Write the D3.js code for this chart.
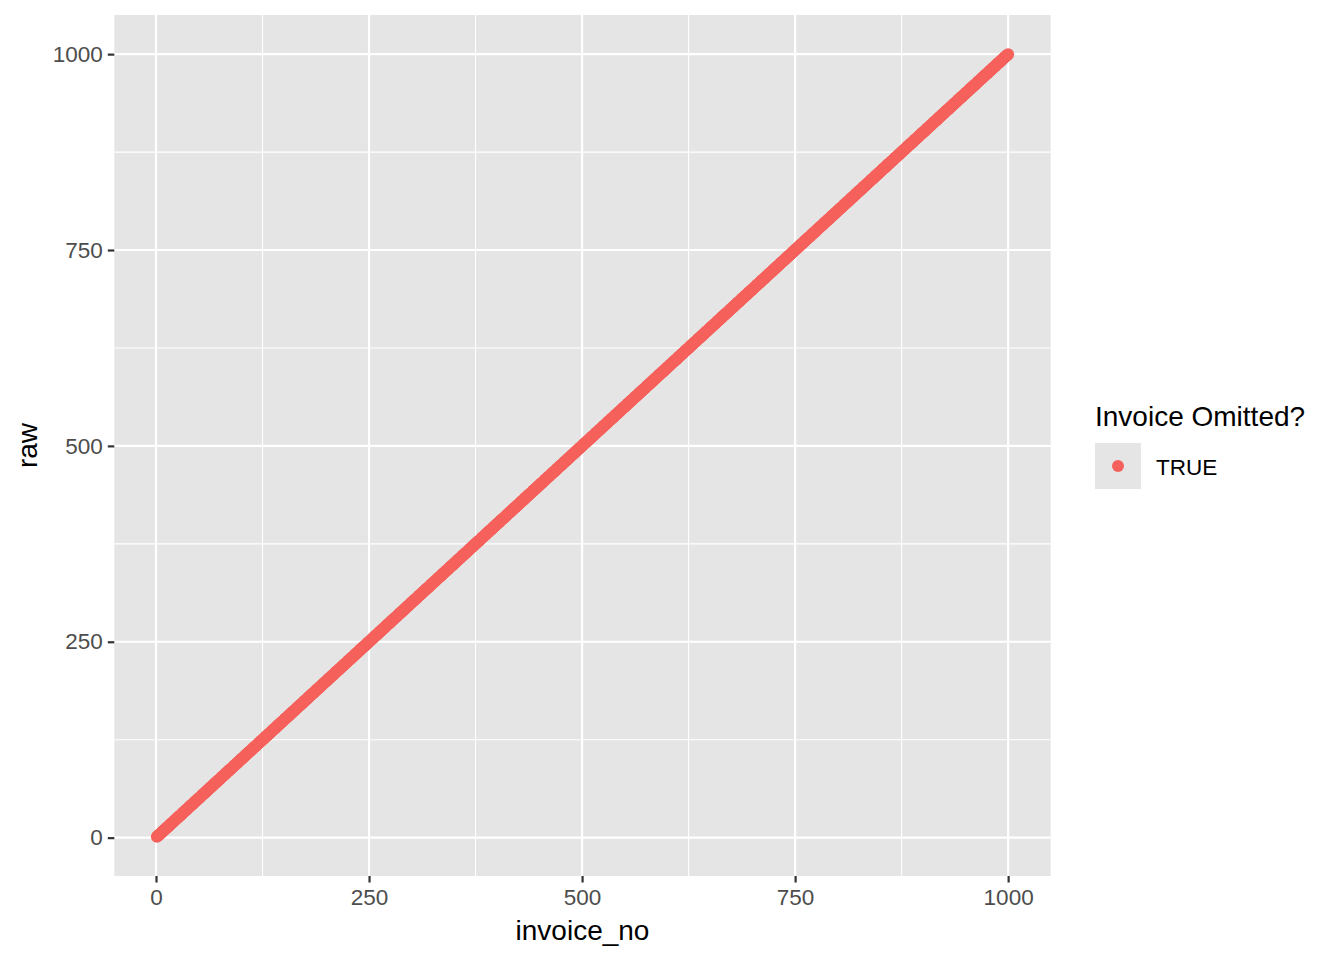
<!DOCTYPE html>
<html>
<head>
<meta charset="utf-8">
<script src="https://cdn.jsdelivr.net/npm/d3@7"></script>
<style>
  body { margin: 0; background: #ffffff; }
  text { font-family: "Liberation Sans", Arial, Helvetica, sans-serif; }
</style>
</head>
<body>
<script>
"use strict";

// invoice numbers (x) and raw values (y)
const invoiceNo = [
  1,2,3,4,5,6,7,8,9,10,11,12,13,14,15,16,17,18,19,20,21,22,23,24,25,
  26,27,28,29,30,31,32,33,34,35,36,37,38,39,40,41,42,43,44,45,46,47,48,49,50,
  51,52,53,54,55,56,57,58,59,60,61,62,63,64,65,66,67,68,69,70,71,72,73,74,75,
  76,77,78,79,80,81,82,83,84,85,86,87,88,89,90,91,92,93,94,95,96,97,98,99,100,
  101,102,103,104,105,106,107,108,109,110,111,112,113,114,115,116,117,118,119,120,121,122,123,124,125,
  126,127,128,129,130,131,132,133,134,135,136,137,138,139,140,141,142,143,144,145,146,147,148,149,150,
  151,152,153,154,155,156,157,158,159,160,161,162,163,164,165,166,167,168,169,170,171,172,173,174,175,
  176,177,178,179,180,181,182,183,184,185,186,187,188,189,190,191,192,193,194,195,196,197,198,199,200,
  201,202,203,204,205,206,207,208,209,210,211,212,213,214,215,216,217,218,219,220,221,222,223,224,225,
  226,227,228,229,230,231,232,233,234,235,236,237,238,239,240,241,242,243,244,245,246,247,248,249,250,
  251,252,253,254,255,256,257,258,259,260,261,262,263,264,265,266,267,268,269,270,271,272,273,274,275,
  276,277,278,279,280,281,282,283,284,285,286,287,288,289,290,291,292,293,294,295,296,297,298,299,300,
  301,302,303,304,305,306,307,308,309,310,311,312,313,314,315,316,317,318,319,320,321,322,323,324,325,
  326,327,328,329,330,331,332,333,334,335,336,337,338,339,340,341,342,343,344,345,346,347,348,349,350,
  351,352,353,354,355,356,357,358,359,360,361,362,363,364,365,366,367,368,369,370,371,372,373,374,375,
  376,377,378,379,380,381,382,383,384,385,386,387,388,389,390,391,392,393,394,395,396,397,398,399,400,
  401,402,403,404,405,406,407,408,409,410,411,412,413,414,415,416,417,418,419,420,421,422,423,424,425,
  426,427,428,429,430,431,432,433,434,435,436,437,438,439,440,441,442,443,444,445,446,447,448,449,450,
  451,452,453,454,455,456,457,458,459,460,461,462,463,464,465,466,467,468,469,470,471,472,473,474,475,
  476,477,478,479,480,481,482,483,484,485,486,487,488,489,490,491,492,493,494,495,496,497,498,499,500,
  501,502,503,504,505,506,507,508,509,510,511,512,513,514,515,516,517,518,519,520,521,522,523,524,525,
  526,527,528,529,530,531,532,533,534,535,536,537,538,539,540,541,542,543,544,545,546,547,548,549,550,
  551,552,553,554,555,556,557,558,559,560,561,562,563,564,565,566,567,568,569,570,571,572,573,574,575,
  576,577,578,579,580,581,582,583,584,585,586,587,588,589,590,591,592,593,594,595,596,597,598,599,600,
  601,602,603,604,605,606,607,608,609,610,611,612,613,614,615,616,617,618,619,620,621,622,623,624,625,
  626,627,628,629,630,631,632,633,634,635,636,637,638,639,640,641,642,643,644,645,646,647,648,649,650,
  651,652,653,654,655,656,657,658,659,660,661,662,663,664,665,666,667,668,669,670,671,672,673,674,675,
  676,677,678,679,680,681,682,683,684,685,686,687,688,689,690,691,692,693,694,695,696,697,698,699,700,
  701,702,703,704,705,706,707,708,709,710,711,712,713,714,715,716,717,718,719,720,721,722,723,724,725,
  726,727,728,729,730,731,732,733,734,735,736,737,738,739,740,741,742,743,744,745,746,747,748,749,750,
  751,752,753,754,755,756,757,758,759,760,761,762,763,764,765,766,767,768,769,770,771,772,773,774,775,
  776,777,778,779,780,781,782,783,784,785,786,787,788,789,790,791,792,793,794,795,796,797,798,799,800,
  801,802,803,804,805,806,807,808,809,810,811,812,813,814,815,816,817,818,819,820,821,822,823,824,825,
  826,827,828,829,830,831,832,833,834,835,836,837,838,839,840,841,842,843,844,845,846,847,848,849,850,
  851,852,853,854,855,856,857,858,859,860,861,862,863,864,865,866,867,868,869,870,871,872,873,874,875,
  876,877,878,879,880,881,882,883,884,885,886,887,888,889,890,891,892,893,894,895,896,897,898,899,900,
  901,902,903,904,905,906,907,908,909,910,911,912,913,914,915,916,917,918,919,920,921,922,923,924,925,
  926,927,928,929,930,931,932,933,934,935,936,937,938,939,940,941,942,943,944,945,946,947,948,949,950,
  951,952,953,954,955,956,957,958,959,960,961,962,963,964,965,966,967,968,969,970,971,972,973,974,975,
  976,977,978,979,980,981,982,983,984,985,986,987,988,989,990,991,992,993,994,995,996,997,998,999,1000
]
const raw = [
  1,2,3,4,5,6,7,8,9,10,11,12,13,14,15,16,17,18,19,20,21,22,23,24,25,
  26,27,28,29,30,31,32,33,34,35,36,37,38,39,40,41,42,43,44,45,46,47,48,49,50,
  51,52,53,54,55,56,57,58,59,60,61,62,63,64,65,66,67,68,69,70,71,72,73,74,75,
  76,77,78,79,80,81,82,83,84,85,86,87,88,89,90,91,92,93,94,95,96,97,98,99,100,
  101,102,103,104,105,106,107,108,109,110,111,112,113,114,115,116,117,118,119,120,121,122,123,124,125,
  126,127,128,129,130,131,132,133,134,135,136,137,138,139,140,141,142,143,144,145,146,147,148,149,150,
  151,152,153,154,155,156,157,158,159,160,161,162,163,164,165,166,167,168,169,170,171,172,173,174,175,
  176,177,178,179,180,181,182,183,184,185,186,187,188,189,190,191,192,193,194,195,196,197,198,199,200,
  201,202,203,204,205,206,207,208,209,210,211,212,213,214,215,216,217,218,219,220,221,222,223,224,225,
  226,227,228,229,230,231,232,233,234,235,236,237,238,239,240,241,242,243,244,245,246,247,248,249,250,
  251,252,253,254,255,256,257,258,259,260,261,262,263,264,265,266,267,268,269,270,271,272,273,274,275,
  276,277,278,279,280,281,282,283,284,285,286,287,288,289,290,291,292,293,294,295,296,297,298,299,300,
  301,302,303,304,305,306,307,308,309,310,311,312,313,314,315,316,317,318,319,320,321,322,323,324,325,
  326,327,328,329,330,331,332,333,334,335,336,337,338,339,340,341,342,343,344,345,346,347,348,349,350,
  351,352,353,354,355,356,357,358,359,360,361,362,363,364,365,366,367,368,369,370,371,372,373,374,375,
  376,377,378,379,380,381,382,383,384,385,386,387,388,389,390,391,392,393,394,395,396,397,398,399,400,
  401,402,403,404,405,406,407,408,409,410,411,412,413,414,415,416,417,418,419,420,421,422,423,424,425,
  426,427,428,429,430,431,432,433,434,435,436,437,438,439,440,441,442,443,444,445,446,447,448,449,450,
  451,452,453,454,455,456,457,458,459,460,461,462,463,464,465,466,467,468,469,470,471,472,473,474,475,
  476,477,478,479,480,481,482,483,484,485,486,487,488,489,490,491,492,493,494,495,496,497,498,499,500,
  501,502,503,504,505,506,507,508,509,510,511,512,513,514,515,516,517,518,519,520,521,522,523,524,525,
  526,527,528,529,530,531,532,533,534,535,536,537,538,539,540,541,542,543,544,545,546,547,548,549,550,
  551,552,553,554,555,556,557,558,559,560,561,562,563,564,565,566,567,568,569,570,571,572,573,574,575,
  576,577,578,579,580,581,582,583,584,585,586,587,588,589,590,591,592,593,594,595,596,597,598,599,600,
  601,602,603,604,605,606,607,608,609,610,611,612,613,614,615,616,617,618,619,620,621,622,623,624,625,
  626,627,628,629,630,631,632,633,634,635,636,637,638,639,640,641,642,643,644,645,646,647,648,649,650,
  651,652,653,654,655,656,657,658,659,660,661,662,663,664,665,666,667,668,669,670,671,672,673,674,675,
  676,677,678,679,680,681,682,683,684,685,686,687,688,689,690,691,692,693,694,695,696,697,698,699,700,
  701,702,703,704,705,706,707,708,709,710,711,712,713,714,715,716,717,718,719,720,721,722,723,724,725,
  726,727,728,729,730,731,732,733,734,735,736,737,738,739,740,741,742,743,744,745,746,747,748,749,750,
  751,752,753,754,755,756,757,758,759,760,761,762,763,764,765,766,767,768,769,770,771,772,773,774,775,
  776,777,778,779,780,781,782,783,784,785,786,787,788,789,790,791,792,793,794,795,796,797,798,799,800,
  801,802,803,804,805,806,807,808,809,810,811,812,813,814,815,816,817,818,819,820,821,822,823,824,825,
  826,827,828,829,830,831,832,833,834,835,836,837,838,839,840,841,842,843,844,845,846,847,848,849,850,
  851,852,853,854,855,856,857,858,859,860,861,862,863,864,865,866,867,868,869,870,871,872,873,874,875,
  876,877,878,879,880,881,882,883,884,885,886,887,888,889,890,891,892,893,894,895,896,897,898,899,900,
  901,902,903,904,905,906,907,908,909,910,911,912,913,914,915,916,917,918,919,920,921,922,923,924,925,
  926,927,928,929,930,931,932,933,934,935,936,937,938,939,940,941,942,943,944,945,946,947,948,949,950,
  951,952,953,954,955,956,957,958,959,960,961,962,963,964,965,966,967,968,969,970,971,972,973,974,975,
  976,977,978,979,980,981,982,983,984,985,986,987,988,989,990,991,992,993,994,995,996,997,998,999,1000
]
// every point is in the one legend group
const omittedGroups = ["TRUE"]
const groupColors = ["#F6615C"]

const xMajorTicks = [0, 250, 500, 750, 1000]
const xMinorTicks = [125, 375, 625, 875]
const yMajorTicks = [0, 250, 500, 750, 1000]
const yMinorTicks = [125, 375, 625, 875]

// layout
const size = { width: 1344, height: 960 }
const panel = { left: 114.3, right: 1050.7, top: 15, bottom: 876 }

const svg = d3.select("body").append("svg")
    .attr("width", size.width)
    .attr("height", size.height)

// ggplot style 5% expansion of the data range
const xExt = d3.extent(invoiceNo)
const yExt = d3.extent(raw)
const xPad = (xExt[1] - xExt[0]) * 0.05
const yPad = (yExt[1] - yExt[0]) * 0.05

const scaleX = d3.scaleLinear()
    .domain([xExt[0] - xPad, xExt[1] + xPad])
    .range([panel.left, panel.right])
const scaleY = d3.scaleLinear()
    .domain([yExt[0] - yPad, yExt[1] + yPad])
    .range([panel.bottom, panel.top])

// panel background
svg.append("rect")
    .attr("x", panel.left)
    .attr("y", panel.top)
    .attr("width", panel.right - panel.left)
    .attr("height", panel.bottom - panel.top)
    .attr("fill", "#E5E5E5")

// grid lines, minor first then major
const grid = svg.append("g")
function gridLines(values, vertical, width) {
    grid.selectAll(null)
        .data(values)
        .enter()
        .append("line")
            .attr("x1", d => vertical ? scaleX(d) : panel.left)
            .attr("x2", d => vertical ? scaleX(d) : panel.right)
            .attr("y1", d => vertical ? panel.top : scaleY(d))
            .attr("y2", d => vertical ? panel.bottom : scaleY(d))
            .attr("stroke", "#ffffff")
            .attr("stroke-width", width)
}
gridLines(xMinorTicks, true, 1.1)
gridLines(yMinorTicks, false, 1.1)
gridLines(xMajorTicks, true, 2.2)
gridLines(yMajorTicks, false, 2.2)

// points
const points = invoiceNo.map((x, i) => ({ x: x, y: raw[i], group: omittedGroups[0] }))
const color = d3.scaleOrdinal().domain(omittedGroups).range(groupColors)
svg.append("g")
    .selectAll("circle")
    .data(points)
    .enter()
    .append("circle")
        .attr("cx", d => scaleX(d.x))
        .attr("cy", d => scaleY(d.y))
        .attr("r", 6)
        .attr("fill", d => color(d.group))

// axes
const xAxis = d3.axisBottom(scaleX)
    .tickValues(xMajorTicks)
    .tickSize(6.5)
    .tickPadding(5)
    .tickFormat(d3.format("d"))
const yAxis = d3.axisLeft(scaleY)
    .tickValues(yMajorTicks)
    .tickSize(6.5)
    .tickPadding(5)
    .tickFormat(d3.format("d"))

const gx = svg.append("g")
    .attr("transform", `translate(0,${panel.bottom})`)
    .call(xAxis)
const gy = svg.append("g")
    .attr("transform", `translate(${panel.left},0)`)
    .call(yAxis)

for (const g of [gx, gy]) {
    g.select(".domain").remove()
    g.selectAll(".tick line")
        .attr("stroke", "#333333")
        .attr("stroke-width", 2.2)
    g.selectAll(".tick text")
        .attr("fill", "#4D4D4D")
        .style("font-size", "22.5px")
        .style("font-family", "'Liberation Sans', Arial, sans-serif")
}
gx.selectAll(".tick text").attr("dy", "0.78em")

// axis titles
svg.append("text")
    .attr("x", (panel.left + panel.right) / 2)
    .attr("y", 940)
    .attr("text-anchor", "middle")
    .style("font-size", "28px")
    .attr("fill", "#000000")
    .text("invoice_no")
svg.append("text")
    .attr("transform", `translate(37,${(panel.top + panel.bottom) / 2})rotate(-90)`)
    .attr("text-anchor", "middle")
    .style("font-size", "28px")
    .attr("fill", "#000000")
    .text("raw")

// legend
const legend = svg.append("g")
    .attr("transform", "translate(1095,0)")
legend.append("text")
    .attr("x", 0)
    .attr("y", 425.5)
    .style("font-size", "28px")
    .attr("fill", "#000000")
    .text("Invoice Omitted?")
const keys = legend.selectAll(".key")
    .data(omittedGroups)
    .enter()
    .append("g")
        .attr("class", "key")
        .attr("transform", (d, i) => `translate(0,${443 + i * 46})`)
keys.append("rect")
    .attr("width", 46)
    .attr("height", 46)
    .attr("fill", "#E5E5E5")
keys.append("circle")
    .attr("cx", 23)
    .attr("cy", 23)
    .attr("r", 6)
    .attr("fill", d => color(d))
keys.append("text")
    .attr("x", 61)
    .attr("y", 31.5)
    .style("font-size", "22.5px")
    .attr("fill", "#000000")
    .text(d => d)
</script>
</body>
</html>
